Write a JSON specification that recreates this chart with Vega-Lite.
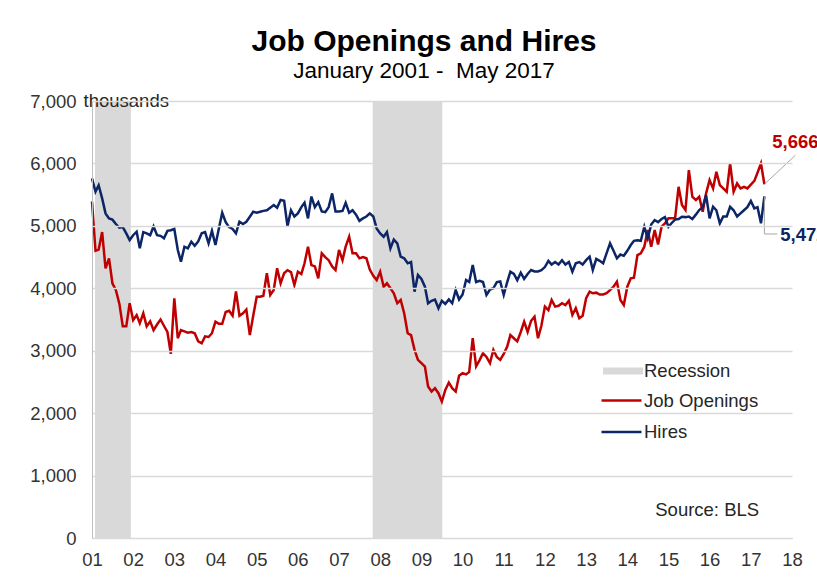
{
"$schema":"https://vega.github.io/schema/vega-lite/v6.json",
"width":700,"height":437,
"autosize":{"type":"none"},
"padding":{"left":92,"top":101,"right":25,"bottom":44},
"background":"white",
"config":{"view":{"stroke":null},"font":"Liberation Sans"},
"title":{"text":"Job Openings and Hires","subtitle":"January 2001 - \u00a0May 2017","font":"Liberation Sans","fontSize":30,"fontWeight":"bold","color":"#000000","subtitleFont":"Liberation Sans","subtitleFontSize":22.5,"subtitleColor":"#000000","anchor":"middle","frame":"group","offset":10,"subtitlePadding":3,"dx":-18},
"datasets":{
"recessions":[{"start":"2001-01-28","end":"2001-12-12","series":"Recession"},{"start":"2007-10-27","end":"2009-07-05","series":"Recession"}],
"leaders":[{"x":"2017-05-01","y":5666,"x2":"2018-02-01","y2":6133},{"x":"2017-05-01","y":5472,"x2":"2017-05-01","y2":4870},{"x":"2017-05-01","y":4870,"x2":"2017-08-24","y2":4870}],
"endlabels":[{"date":"2017-07-10","value":6346,"label":"5,666","series":"Job Openings"},{"date":"2017-09-19","value":4854,"label":"5,472","series":"Hires"}],
"notes":[{"date":"2014-09-06","value":448,"label":"Source: BLS"},{"date":"2000-10-18","value":7000,"label":"thousands"}],
"monthly":[
{"date":"2001-01-01","Job Openings":5390,"Hires":5760},
{"date":"2001-02-01","Job Openings":4600,"Hires":5546},
{"date":"2001-03-01","Job Openings":4620,"Hires":5650},
{"date":"2001-04-01","Job Openings":4900,"Hires":5440},
{"date":"2001-05-01","Job Openings":4320,"Hires":5200},
{"date":"2001-06-01","Job Openings":4480,"Hires":5120},
{"date":"2001-07-01","Job Openings":4080,"Hires":5100},
{"date":"2001-08-01","Job Openings":3970,"Hires":5030},
{"date":"2001-09-01","Job Openings":3750,"Hires":4970},
{"date":"2001-10-01","Job Openings":3390,"Hires":4980},
{"date":"2001-11-01","Job Openings":3390,"Hires":4880},
{"date":"2001-12-01","Job Openings":3760,"Hires":4773},
{"date":"2002-01-01","Job Openings":3490,"Hires":4850},
{"date":"2002-02-01","Job Openings":3570,"Hires":4906},
{"date":"2002-03-01","Job Openings":3440,"Hires":4640},
{"date":"2002-04-01","Job Openings":3600,"Hires":4900},
{"date":"2002-05-01","Job Openings":3390,"Hires":4880},
{"date":"2002-06-01","Job Openings":3470,"Hires":4850},
{"date":"2002-07-01","Job Openings":3330,"Hires":4990},
{"date":"2002-08-01","Job Openings":3420,"Hires":4850},
{"date":"2002-09-01","Job Openings":3500,"Hires":4840},
{"date":"2002-10-01","Job Openings":3400,"Hires":4800},
{"date":"2002-11-01","Job Openings":3300,"Hires":4920},
{"date":"2002-12-01","Job Openings":2950,"Hires":4930},
{"date":"2003-01-01","Job Openings":3840,"Hires":4950},
{"date":"2003-02-01","Job Openings":3200,"Hires":4613},
{"date":"2003-03-01","Job Openings":3330,"Hires":4426},
{"date":"2003-04-01","Job Openings":3310,"Hires":4666},
{"date":"2003-05-01","Job Openings":3290,"Hires":4640},
{"date":"2003-06-01","Job Openings":3300,"Hires":4746},
{"date":"2003-07-01","Job Openings":3280,"Hires":4680},
{"date":"2003-08-01","Job Openings":3150,"Hires":4750},
{"date":"2003-09-01","Job Openings":3120,"Hires":4880},
{"date":"2003-10-01","Job Openings":3230,"Hires":4900},
{"date":"2003-11-01","Job Openings":3220,"Hires":4720},
{"date":"2003-12-01","Job Openings":3280,"Hires":4920},
{"date":"2004-01-01","Job Openings":3466,"Hires":4693},
{"date":"2004-02-01","Job Openings":3430,"Hires":4960},
{"date":"2004-03-01","Job Openings":3430,"Hires":5210},
{"date":"2004-04-01","Job Openings":3620,"Hires":5060},
{"date":"2004-05-01","Job Openings":3640,"Hires":4980},
{"date":"2004-06-01","Job Openings":3560,"Hires":4950},
{"date":"2004-07-01","Job Openings":3950,"Hires":4880},
{"date":"2004-08-01","Job Openings":3560,"Hires":5066},
{"date":"2004-09-01","Job Openings":3600,"Hires":5030},
{"date":"2004-10-01","Job Openings":3660,"Hires":5066},
{"date":"2004-11-01","Job Openings":3250,"Hires":5146},
{"date":"2004-12-01","Job Openings":3560,"Hires":5226},
{"date":"2005-01-01","Job Openings":3866,"Hires":5210},
{"date":"2005-02-01","Job Openings":3866,"Hires":5226},
{"date":"2005-03-01","Job Openings":3880,"Hires":5240},
{"date":"2005-04-01","Job Openings":4240,"Hires":5250},
{"date":"2005-05-01","Job Openings":3893,"Hires":5290},
{"date":"2005-06-01","Job Openings":3973,"Hires":5333},
{"date":"2005-07-01","Job Openings":4320,"Hires":5290},
{"date":"2005-08-01","Job Openings":4080,"Hires":5413},
{"date":"2005-09-01","Job Openings":4240,"Hires":5400},
{"date":"2005-10-01","Job Openings":4290,"Hires":4996},
{"date":"2005-11-01","Job Openings":4260,"Hires":5250},
{"date":"2005-12-01","Job Openings":4053,"Hires":5150},
{"date":"2006-01-01","Job Openings":4266,"Hires":5200},
{"date":"2006-02-01","Job Openings":4230,"Hires":5300},
{"date":"2006-03-01","Job Openings":4400,"Hires":5370},
{"date":"2006-04-01","Job Openings":4666,"Hires":5120},
{"date":"2006-05-01","Job Openings":4370,"Hires":5470},
{"date":"2006-06-01","Job Openings":4350,"Hires":5300},
{"date":"2006-07-01","Job Openings":4160,"Hires":5380},
{"date":"2006-08-01","Job Openings":4560,"Hires":5230},
{"date":"2006-09-01","Job Openings":4500,"Hires":5220},
{"date":"2006-10-01","Job Openings":4450,"Hires":5300},
{"date":"2006-11-01","Job Openings":4350,"Hires":5520},
{"date":"2006-12-01","Job Openings":4293,"Hires":5230},
{"date":"2007-01-01","Job Openings":4613,"Hires":5230},
{"date":"2007-02-01","Job Openings":4450,"Hires":5240},
{"date":"2007-03-01","Job Openings":4666,"Hires":5370},
{"date":"2007-04-01","Job Openings":4826,"Hires":5210},
{"date":"2007-05-01","Job Openings":4560,"Hires":5250},
{"date":"2007-06-01","Job Openings":4560,"Hires":5180},
{"date":"2007-07-01","Job Openings":4480,"Hires":5080},
{"date":"2007-08-01","Job Openings":4500,"Hires":5120},
{"date":"2007-09-01","Job Openings":4480,"Hires":5150},
{"date":"2007-10-01","Job Openings":4300,"Hires":5200},
{"date":"2007-11-01","Job Openings":4200,"Hires":5150},
{"date":"2007-12-01","Job Openings":4133,"Hires":4960},
{"date":"2008-01-01","Job Openings":4266,"Hires":4880},
{"date":"2008-02-01","Job Openings":4026,"Hires":4826},
{"date":"2008-03-01","Job Openings":4080,"Hires":4900},
{"date":"2008-04-01","Job Openings":4000,"Hires":4640},
{"date":"2008-05-01","Job Openings":3920,"Hires":4780},
{"date":"2008-06-01","Job Openings":3760,"Hires":4720},
{"date":"2008-07-01","Job Openings":3813,"Hires":4506},
{"date":"2008-08-01","Job Openings":3600,"Hires":4480},
{"date":"2008-09-01","Job Openings":3280,"Hires":4400},
{"date":"2008-10-01","Job Openings":3250,"Hires":4420},
{"date":"2008-11-01","Job Openings":3013,"Hires":3946},
{"date":"2008-12-01","Job Openings":2853,"Hires":4213},
{"date":"2009-01-01","Job Openings":2800,"Hires":4150},
{"date":"2009-02-01","Job Openings":2746,"Hires":4026},
{"date":"2009-03-01","Job Openings":2426,"Hires":3760},
{"date":"2009-04-01","Job Openings":2346,"Hires":3800},
{"date":"2009-05-01","Job Openings":2400,"Hires":3820},
{"date":"2009-06-01","Job Openings":2320,"Hires":3680},
{"date":"2009-07-01","Job Openings":2186,"Hires":3800},
{"date":"2009-08-01","Job Openings":2373,"Hires":3750},
{"date":"2009-09-01","Job Openings":2490,"Hires":3820},
{"date":"2009-10-01","Job Openings":2400,"Hires":3760},
{"date":"2009-11-01","Job Openings":2346,"Hires":3973},
{"date":"2009-12-01","Job Openings":2600,"Hires":3820},
{"date":"2010-01-01","Job Openings":2640,"Hires":3900},
{"date":"2010-02-01","Job Openings":2620,"Hires":4133},
{"date":"2010-03-01","Job Openings":2660,"Hires":4100},
{"date":"2010-04-01","Job Openings":3200,"Hires":4373},
{"date":"2010-05-01","Job Openings":2750,"Hires":4100},
{"date":"2010-06-01","Job Openings":2850,"Hires":4120},
{"date":"2010-07-01","Job Openings":2960,"Hires":4100},
{"date":"2010-08-01","Job Openings":2900,"Hires":3893},
{"date":"2010-09-01","Job Openings":2800,"Hires":3980},
{"date":"2010-10-01","Job Openings":3013,"Hires":4000},
{"date":"2010-11-01","Job Openings":2900,"Hires":4100},
{"date":"2010-12-01","Job Openings":2853,"Hires":4110},
{"date":"2011-01-01","Job Openings":2950,"Hires":3893},
{"date":"2011-02-01","Job Openings":3066,"Hires":4100},
{"date":"2011-03-01","Job Openings":3250,"Hires":4266},
{"date":"2011-04-01","Job Openings":3200,"Hires":4230},
{"date":"2011-05-01","Job Openings":3150,"Hires":4130},
{"date":"2011-06-01","Job Openings":3300,"Hires":4250},
{"date":"2011-07-01","Job Openings":3466,"Hires":4150},
{"date":"2011-08-01","Job Openings":3300,"Hires":4230},
{"date":"2011-09-01","Job Openings":3480,"Hires":4293},
{"date":"2011-10-01","Job Openings":3546,"Hires":4270},
{"date":"2011-11-01","Job Openings":3200,"Hires":4270},
{"date":"2011-12-01","Job Openings":3400,"Hires":4290},
{"date":"2012-01-01","Job Openings":3706,"Hires":4340},
{"date":"2012-02-01","Job Openings":3650,"Hires":4440},
{"date":"2012-03-01","Job Openings":3813,"Hires":4380},
{"date":"2012-04-01","Job Openings":3706,"Hires":4420},
{"date":"2012-05-01","Job Openings":3720,"Hires":4380},
{"date":"2012-06-01","Job Openings":3760,"Hires":4450},
{"date":"2012-07-01","Job Openings":3730,"Hires":4380},
{"date":"2012-08-01","Job Openings":3800,"Hires":4420},
{"date":"2012-09-01","Job Openings":3573,"Hires":4266},
{"date":"2012-10-01","Job Openings":3680,"Hires":4400},
{"date":"2012-11-01","Job Openings":3520,"Hires":4420},
{"date":"2012-12-01","Job Openings":3560,"Hires":4380},
{"date":"2013-01-01","Job Openings":3840,"Hires":4450},
{"date":"2013-02-01","Job Openings":3946,"Hires":4506},
{"date":"2013-03-01","Job Openings":3920,"Hires":4293},
{"date":"2013-04-01","Job Openings":3930,"Hires":4470},
{"date":"2013-05-01","Job Openings":3900,"Hires":4440},
{"date":"2013-06-01","Job Openings":3900,"Hires":4400},
{"date":"2013-07-01","Job Openings":3920,"Hires":4560},
{"date":"2013-08-01","Job Openings":3970,"Hires":4720},
{"date":"2013-09-01","Job Openings":4026,"Hires":4600},
{"date":"2013-10-01","Job Openings":4106,"Hires":4480},
{"date":"2013-11-01","Job Openings":3813,"Hires":4540},
{"date":"2013-12-01","Job Openings":3733,"Hires":4520},
{"date":"2014-01-01","Job Openings":4026,"Hires":4600},
{"date":"2014-02-01","Job Openings":4160,"Hires":4693},
{"date":"2014-03-01","Job Openings":4170,"Hires":4760},
{"date":"2014-04-01","Job Openings":4533,"Hires":4770},
{"date":"2014-05-01","Job Openings":4560,"Hires":4760},
{"date":"2014-06-01","Job Openings":4666,"Hires":4986},
{"date":"2014-07-01","Job Openings":4933,"Hires":4800},
{"date":"2014-08-01","Job Openings":4666,"Hires":5020},
{"date":"2014-09-01","Job Openings":4933,"Hires":5093},
{"date":"2014-10-01","Job Openings":4700,"Hires":5060},
{"date":"2014-11-01","Job Openings":4986,"Hires":5110},
{"date":"2014-12-01","Job Openings":5040,"Hires":5140},
{"date":"2015-01-01","Job Openings":5120,"Hires":4986},
{"date":"2015-02-01","Job Openings":5120,"Hires":5050},
{"date":"2015-03-01","Job Openings":5120,"Hires":5100},
{"date":"2015-04-01","Job Openings":5626,"Hires":5110},
{"date":"2015-05-01","Job Openings":5333,"Hires":5146},
{"date":"2015-06-01","Job Openings":5253,"Hires":5140},
{"date":"2015-07-01","Job Openings":5893,"Hires":5150},
{"date":"2015-08-01","Job Openings":5466,"Hires":5110},
{"date":"2015-09-01","Job Openings":5413,"Hires":5180},
{"date":"2015-10-01","Job Openings":5466,"Hires":5253},
{"date":"2015-11-01","Job Openings":5226,"Hires":5300},
{"date":"2015-12-01","Job Openings":5520,"Hires":5493},
{"date":"2016-01-01","Job Openings":5733,"Hires":5120},
{"date":"2016-02-01","Job Openings":5600,"Hires":5306},
{"date":"2016-03-01","Job Openings":5866,"Hires":5250},
{"date":"2016-04-01","Job Openings":5653,"Hires":5040},
{"date":"2016-05-01","Job Openings":5600,"Hires":5150},
{"date":"2016-06-01","Job Openings":5546,"Hires":5150},
{"date":"2016-07-01","Job Openings":6000,"Hires":5306},
{"date":"2016-08-01","Job Openings":5546,"Hires":5250},
{"date":"2016-09-01","Job Openings":5680,"Hires":5150},
{"date":"2016-10-01","Job Openings":5600,"Hires":5200},
{"date":"2016-11-01","Job Openings":5626,"Hires":5250},
{"date":"2016-12-01","Job Openings":5600,"Hires":5300},
{"date":"2017-01-01","Job Openings":5660,"Hires":5400},
{"date":"2017-02-01","Job Openings":5720,"Hires":5280},
{"date":"2017-03-01","Job Openings":5850,"Hires":5300},
{"date":"2017-04-01","Job Openings":6000,"Hires":5040},
{"date":"2017-05-01","Job Openings":5666,"Hires":5472}
]},
"layer":[
{"data":{"name":"recessions"},
 "mark":{"type":"rect"},
 "encoding":{
  "x":{"field":"start","type":"temporal",
   "scale":{"type":"utc","domain":[{"year":2001,"month":1,"date":1,"utc":true},{"year":2018,"month":1,"date":1,"utc":true}]},
   "axis":{"title":null,"format":"%y","values":[{"year":2001,"utc":true},{"year":2002,"utc":true},{"year":2003,"utc":true},{"year":2004,"utc":true},{"year":2005,"utc":true},{"year":2006,"utc":true},{"year":2007,"utc":true},{"year":2008,"utc":true},{"year":2009,"utc":true},{"year":2010,"utc":true},{"year":2011,"utc":true},{"year":2012,"utc":true},{"year":2013,"utc":true},{"year":2014,"utc":true},{"year":2015,"utc":true},{"year":2016,"utc":true},{"year":2017,"utc":true},{"year":2018,"utc":true}],"grid":false,"ticks":false,"domain":true,"domainColor":"#bfbfbf","domainWidth":1,"labelFont":"Liberation Sans","labelFontSize":18.5,"labelColor":"#333333","labelPadding":12,"labelFlush":false,"labelOverlap":false,"labelAlign":"center"}},
  "x2":{"field":"end"},
  "y":{"datum":0,"type":"quantitative",
   "scale":{"domain":[0,7000],"nice":false,"zero":true},
   "axis":{"title":null,"values":[0,1000,2000,3000,4000,5000,6000,7000],"format":",.0f","grid":true,"gridColor":"#d9d9d9","gridWidth":1.5,"ticks":false,"domain":true,"domainColor":"#bfbfbf","domainWidth":1,"labelFont":"Liberation Sans","labelFontSize":18.5,"labelColor":"#333333","labelBaseline":"middle","labelAlign":"right","labelPadding":16,"zindex":1}},
  "y2":{"datum":7000},
  "fill":{"field":"series","type":"nominal",
   "scale":{"domain":["Recession"],"range":["#d9d9d9"]},
   "legend":{"orient":"none","legendX":531,"legendY":260,"title":null,"padding":0,"symbolType":"M-3,-0.35H1V0.35H-3Z","symbolSize":400,"symbolStrokeWidth":0,"symbolOpacity":1,"labelFont":"Liberation Sans","labelFontSize":18.5,"labelColor":"#262626","labelOffset":1}}
 }},
{"data":{"name":"monthly"},
 "transform":[{"fold":["Job Openings","Hires"],"as":["series","value"]}],
 "mark":{"type":"line","strokeWidth":2.5},
 "encoding":{
  "x":{"field":"date","type":"temporal"},
  "y":{"field":"value","type":"quantitative"},
  "stroke":{"field":"series","type":"nominal",
   "scale":{"domain":["Job Openings","Hires"],"range":["#c00000","#0b2566"]},
   "legend":{"orient":"none","legendX":528,"legendY":288,"title":null,"padding":0,"symbolType":"M-3,0H1","symbolSize":400,"symbolStrokeWidth":2.5,"symbolOpacity":1,"labelFont":"Liberation Sans","labelFontSize":18.5,"labelColor":"#262626","labelOffset":1,"rowPadding":10.5}}
 }},
{"data":{"name":"leaders"},
 "mark":{"type":"rule","color":"#a6a6a6","strokeWidth":1},
 "encoding":{
  "x":{"field":"x","type":"temporal"},
  "x2":{"field":"x2"},
  "y":{"field":"y","type":"quantitative"},
  "y2":{"field":"y2"}
 }},
{"data":{"name":"endlabels"},
 "transform":[{"filter":"datum.series == 'Job Openings'"}],
 "mark":{"type":"text","align":"left","baseline":"middle","font":"Liberation Sans","fontSize":18.5,"fontWeight":"bold","color":"#c00000"},
 "encoding":{
  "x":{"field":"date","type":"temporal"},
  "y":{"field":"value","type":"quantitative"},
  "text":{"field":"label"}
 }},
{"data":{"name":"endlabels"},
 "transform":[{"filter":"datum.series == 'Hires'"}],
 "mark":{"type":"text","align":"left","baseline":"middle","font":"Liberation Sans","fontSize":18.5,"fontWeight":"bold","color":"#0b2566"},
 "encoding":{
  "x":{"field":"date","type":"temporal"},
  "y":{"field":"value","type":"quantitative"},
  "text":{"field":"label"}
 }},
{"data":{"name":"notes"},
 "mark":{"type":"text","align":"left","baseline":"middle","font":"Liberation Sans","fontSize":18.5,"color":"#262626"},
 "encoding":{
  "x":{"field":"date","type":"temporal"},
  "y":{"field":"value","type":"quantitative"},
  "text":{"field":"label"}
 }}
]
}
